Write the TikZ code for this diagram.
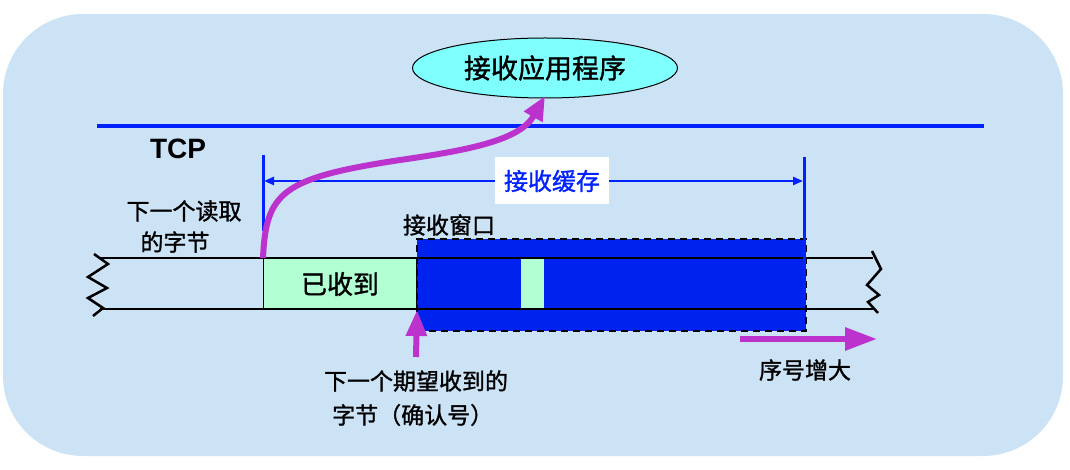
\documentclass[tikz,border=0pt]{standalone}
\usepackage{fontspec}
\setmainfont{Liberation Sans}
\newfontfamily\cjk[FakeBold=1.2]{Noto Sans CJK SC}
\usetikzlibrary{arrows.meta,shapes.geometric}
\definecolor{bgblue}{RGB}{204,227,246}
\definecolor{tcpblue}{RGB}{0,34,255}
\definecolor{winblue}{RGB}{0,34,238}
\definecolor{recgreen}{RGB}{179,255,212}
\definecolor{mag}{RGB}{187,51,204}
\definecolor{appcyan}{RGB}{128,255,255}
\tikzset{
  lbl/.style={font=\cjk\fontsize{23}{25}\selectfont, text=black, inner sep=0pt},
  tape/.style={line width=2.5pt, black},
  magarrow/.style={line width=6pt, mag, -{Triangle[length=24pt,width=20pt]}},
}
\begin{document}
\begin{tikzpicture}[x=1pt,y=-1pt]
\useasboundingbox (0,0) rectangle (1070,470);
% background
\fill[bgblue, rounded corners=80pt] (3,14) rectangle (1063,456);
% TCP line
\coordinate (tcpL) at (97,126);
\coordinate (tcpR) at (984,126);
\draw[tcpblue, line width=4pt] (tcpL) -- (tcpR);
\node[font=\bfseries\fontsize{28}{30}\selectfont, inner sep=0pt] (tcp) at (178,149) {TCP};
% application ellipse
\node[ellipse, draw=black, line width=1pt, fill=appcyan, minimum width=265pt, minimum height=60pt, inner sep=0pt,
      font=\cjk\fontsize{27}{29}\selectfont] (app) at (545,68) {接收应用程序};
% receive window (dashed)
\node[draw=black, dashed, dash pattern=on 7pt off 5pt, line width=2pt, fill=winblue, minimum width=389pt, minimum height=92pt, inner sep=0pt, anchor=north west] (win) at (416,238) {};
% received box
\node[draw=black, line width=1pt, fill=recgreen, minimum width=153pt, minimum height=51pt, inner sep=0pt, anchor=north west,
      font=\cjk\fontsize{26}{28}\selectfont] (rec) at (263,258) {已收到};
% green gap in window
\node[fill=recgreen, minimum width=23pt, minimum height=51pt, inner sep=0pt, anchor=north west] (gap) at (521,258) {};
% tape lines
\coordinate (tTL) at (100,258);
\coordinate (tTR) at (873,258);
\coordinate (tBL) at (100,309);
\coordinate (tBR) at (873,309);
\draw[tape] (tTL) -- (tTR);
\draw[tape] (tBL) -- (tBR);
% zigzags
\draw[black, line width=2.5pt] (94,254) -- (108,264) -- (88,277) -- (107,288) -- (88,298) -- (103,308) -- (93,316);
\draw[black, line width=2.5pt] (872,251) -- (881,269) -- (867,285) -- (879,295) -- (868,302) -- (878,313);
% receive buffer marks
\coordinate (bufLt) at (263,155);
\coordinate (bufLb) at (263,231);
\coordinate (bufRt) at (804,157);
\coordinate (bufRb) at (804,303);
\draw[tcpblue, line width=3pt] (bufLt) -- (bufLb);
\draw[tcpblue, line width=3pt] (bufRt) -- (bufRb);
\coordinate (bufAL) at (264,181);
\coordinate (bufAR) at (803,181);
\draw[tcpblue, line width=2.5pt, {Triangle[length=10pt,width=8pt]}-{Triangle[length=10pt,width=8pt]}] (bufAL) -- (bufAR);
\node[fill=white, text=tcpblue, font=\cjk\fontsize{24}{26}\selectfont, minimum width=114pt, minimum height=47pt, inner sep=0pt] (buf) at (552,181) {接收缓存};
% labels
\node[lbl] (winlbl) at (449,225) {接收窗口};
\node[lbl] (rd1) at (184,211) {下一个读取};
\node[lbl] (rd2) at (175,242) {的字节};
\node[lbl] (ex1) at (416,381) {下一个期望收到的};
\node[lbl, anchor=west] (ex2) at (332,415) {字节（确认号）};
\node[lbl] (seq) at (805,370) {序号增大};
% magenta arrows
\coordinate (appIn) at (545,96);
\draw[magarrow] (rec.north west) .. controls (266,192) and (282,178) .. (400,160)
      .. controls (470,150) and (520,140) .. (appIn);
\coordinate (ackFrom) at (416,357);
\draw[magarrow, -{Triangle[length=26pt,width=20pt]}] (ackFrom) -- (rec.south east);
\coordinate (seqFrom) at (740,339);
\coordinate (seqTo) at (877,339);
\draw[magarrow, -{Triangle[length=32pt,width=22pt]}] (seqFrom) -- (seqTo);
\end{tikzpicture}
\end{document}
